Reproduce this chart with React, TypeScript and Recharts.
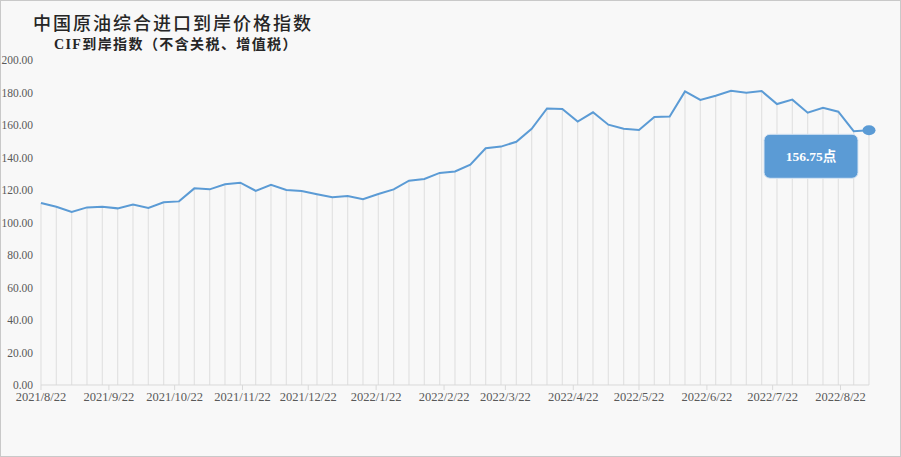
import React from "react";
import { ComposedChart, Line, XAxis, YAxis, ReferenceLine, ReferenceDot } from "recharts";

const dates: string[] = [
  "2021-08-22", "2021-08-29", "2021-09-05", "2021-09-12", "2021-09-19", "2021-09-26",
  "2021-10-03", "2021-10-10", "2021-10-17", "2021-10-24", "2021-10-31", "2021-11-07",
  "2021-11-14", "2021-11-21", "2021-11-28", "2021-12-05", "2021-12-12", "2021-12-19",
  "2021-12-26", "2022-01-02", "2022-01-09", "2022-01-16", "2022-01-23", "2022-01-30",
  "2022-02-06", "2022-02-13", "2022-02-20", "2022-02-27", "2022-03-06", "2022-03-13",
  "2022-03-20", "2022-03-27", "2022-04-03", "2022-04-10", "2022-04-17", "2022-04-24",
  "2022-05-01", "2022-05-08", "2022-05-15", "2022-05-22", "2022-05-29", "2022-06-05",
  "2022-06-12", "2022-06-19", "2022-06-26", "2022-07-03", "2022-07-10", "2022-07-17",
  "2022-07-24", "2022-07-31", "2022-08-07", "2022-08-14", "2022-08-21", "2022-08-28",
  "2022-09-04",
];

const values: number[] = [
  112.0, 109.7, 106.5, 109.3, 109.7, 108.7,
  111.0, 108.9, 112.4, 113.0, 121.0, 120.4,
  123.5, 124.5, 119.5, 123.2, 120.0, 119.4,
  117.4, 115.6, 116.3, 114.3, 117.5, 120.4,
  125.7, 126.8, 130.5, 131.4, 135.6, 145.7,
  146.7, 149.7, 157.7, 170.2, 169.8, 162.1,
  167.8, 160.2, 157.7, 156.9, 164.9, 165.2,
  180.7, 175.4, 178.0, 181.1, 179.9, 180.9,
  172.9, 175.6, 167.6, 170.6, 168.2, 156.2,
  156.75,
];

const tickDates: string[] = [
  "2021-08-22", "2021-09-22", "2021-10-22", "2021-11-22", "2021-12-22",
  "2022-01-22", "2022-02-22", "2022-03-22", "2022-04-22", "2022-05-22",
  "2022-06-22", "2022-07-22", "2022-08-22",
];

const yTicks: number[] = [0, 20, 40, 60, 80, 100, 120, 140, 160, 180, 200];

const title = "中国原油综合进口到岸价格指数";
const subtitle = "CIF到岸指数（不含关税、增值税）";
const calloutUnit = "点";

const toTs = (s: string) => {
  const [y, m, d] = s.split("-").map(Number);
  return Date.UTC(y, m - 1, d);
};

const data = dates.map((d, i) => ({ t: toTs(d), v: values[i] }));
const ticks = tickDates.map(toTs);
const lastPoint = data[data.length - 1];

const fmtDate = (ts: number) => {
  const dt = new Date(ts);
  return `${dt.getUTCFullYear()}/${dt.getUTCMonth() + 1}/${dt.getUTCDate()}`;
};

const BLUE = "#5B9BD5";

const CalloutShape = (props: any) => {
  const { cx, cy } = props;
  if (cx == null || cy == null) return <g />;
  return (
    <g>
      <ellipse cx={cx} cy={cy} rx={6.5} ry={5} fill={BLUE} />
      <rect x={cx - 105} y={cy + 4} width={94} height={44} rx={6} ry={6} fill={BLUE} stroke="#d6e4f3" strokeWidth={1} />
      <text
        x={cx - 58}
        y={cy + 26}
        textAnchor="middle"
        dominantBaseline="central"
        fill="#ffffff"
        fontSize={13.5}
        fontWeight={600}
        fontFamily="'Liberation Serif', 'Noto Sans CJK SC', serif"
      >
        {lastPoint.v.toFixed(2) + calloutUnit}
      </text>
    </g>
  );
};

export default function App() {
  return (
    <div
      style={{
        position: "absolute",
        left: 0,
        top: 0,
        width: 901,
        height: 457,
        background: "#f8f8f8",
        boxSizing: "border-box",
        border: "1px solid #c9c9c9",
        overflow: "hidden",
      }}
    >
      <div
        style={{
          position: "absolute",
          left: 32,
          top: 9,
          fontFamily: "'Noto Sans CJK SC', sans-serif",
          fontSize: 18,
          fontWeight: 500,
          letterSpacing: 2,
          color: "#262626",
          lineHeight: "24px",
          whiteSpace: "nowrap",
        }}
      >
        {title}
      </div>
      <div
        style={{
          position: "absolute",
          left: 53,
          top: 35,
          fontFamily: "'Liberation Serif', 'Noto Sans CJK SC', serif",
          fontSize: 14,
          fontWeight: 600,
          letterSpacing: 1.4,
          color: "#262626",
          lineHeight: "18px",
          whiteSpace: "nowrap",
        }}
      >
        {subtitle}
      </div>
      <div style={{ position: "absolute", left: -1, top: -1 }}>
        <ComposedChart width={901} height={457} data={data} margin={{ top: 60, right: 32, bottom: 42, left: 0 }}>
          <XAxis
            dataKey="t"
            type="number"
            scale="linear"
            domain={[data[0].t, lastPoint.t]}
            ticks={ticks}
            tickFormatter={fmtDate}
            interval={0}
            height={30}
            axisLine={{ stroke: "#d9d9d9" }}
            tickLine={{ stroke: "#d9d9d9" }}
            tickSize={5}
            tick={{ fill: "#595959", fontSize: 12.5, fontFamily: "'Liberation Serif', serif" }}
          />
          <YAxis
            type="number"
            domain={[0, 200]}
            ticks={yTicks}
            width={41}
            axisLine={false}
            tickLine={false}
            tick={{ fill: "#595959", fontSize: 11.5, fontFamily: "'Liberation Serif', serif" }}
            tickFormatter={(v: number) => v.toFixed(2)}
          />
          {data.map((d) => (
            <ReferenceLine
              key={d.t}
              segment={[
                { x: d.t, y: 0 },
                { x: d.t, y: d.v },
              ]}
              stroke="#e2e2e2"
              strokeWidth={1.2}
            />
          ))}
          <Line
            type="linear"
            dataKey="v"
            stroke={BLUE}
            strokeWidth={2}
            dot={false}
            activeDot={false}
            isAnimationActive={false}
          />
          <ReferenceDot x={lastPoint.t} y={lastPoint.v} ifOverflow="visible" shape={CalloutShape} />
        </ComposedChart>
      </div>
    </div>
  );
}
